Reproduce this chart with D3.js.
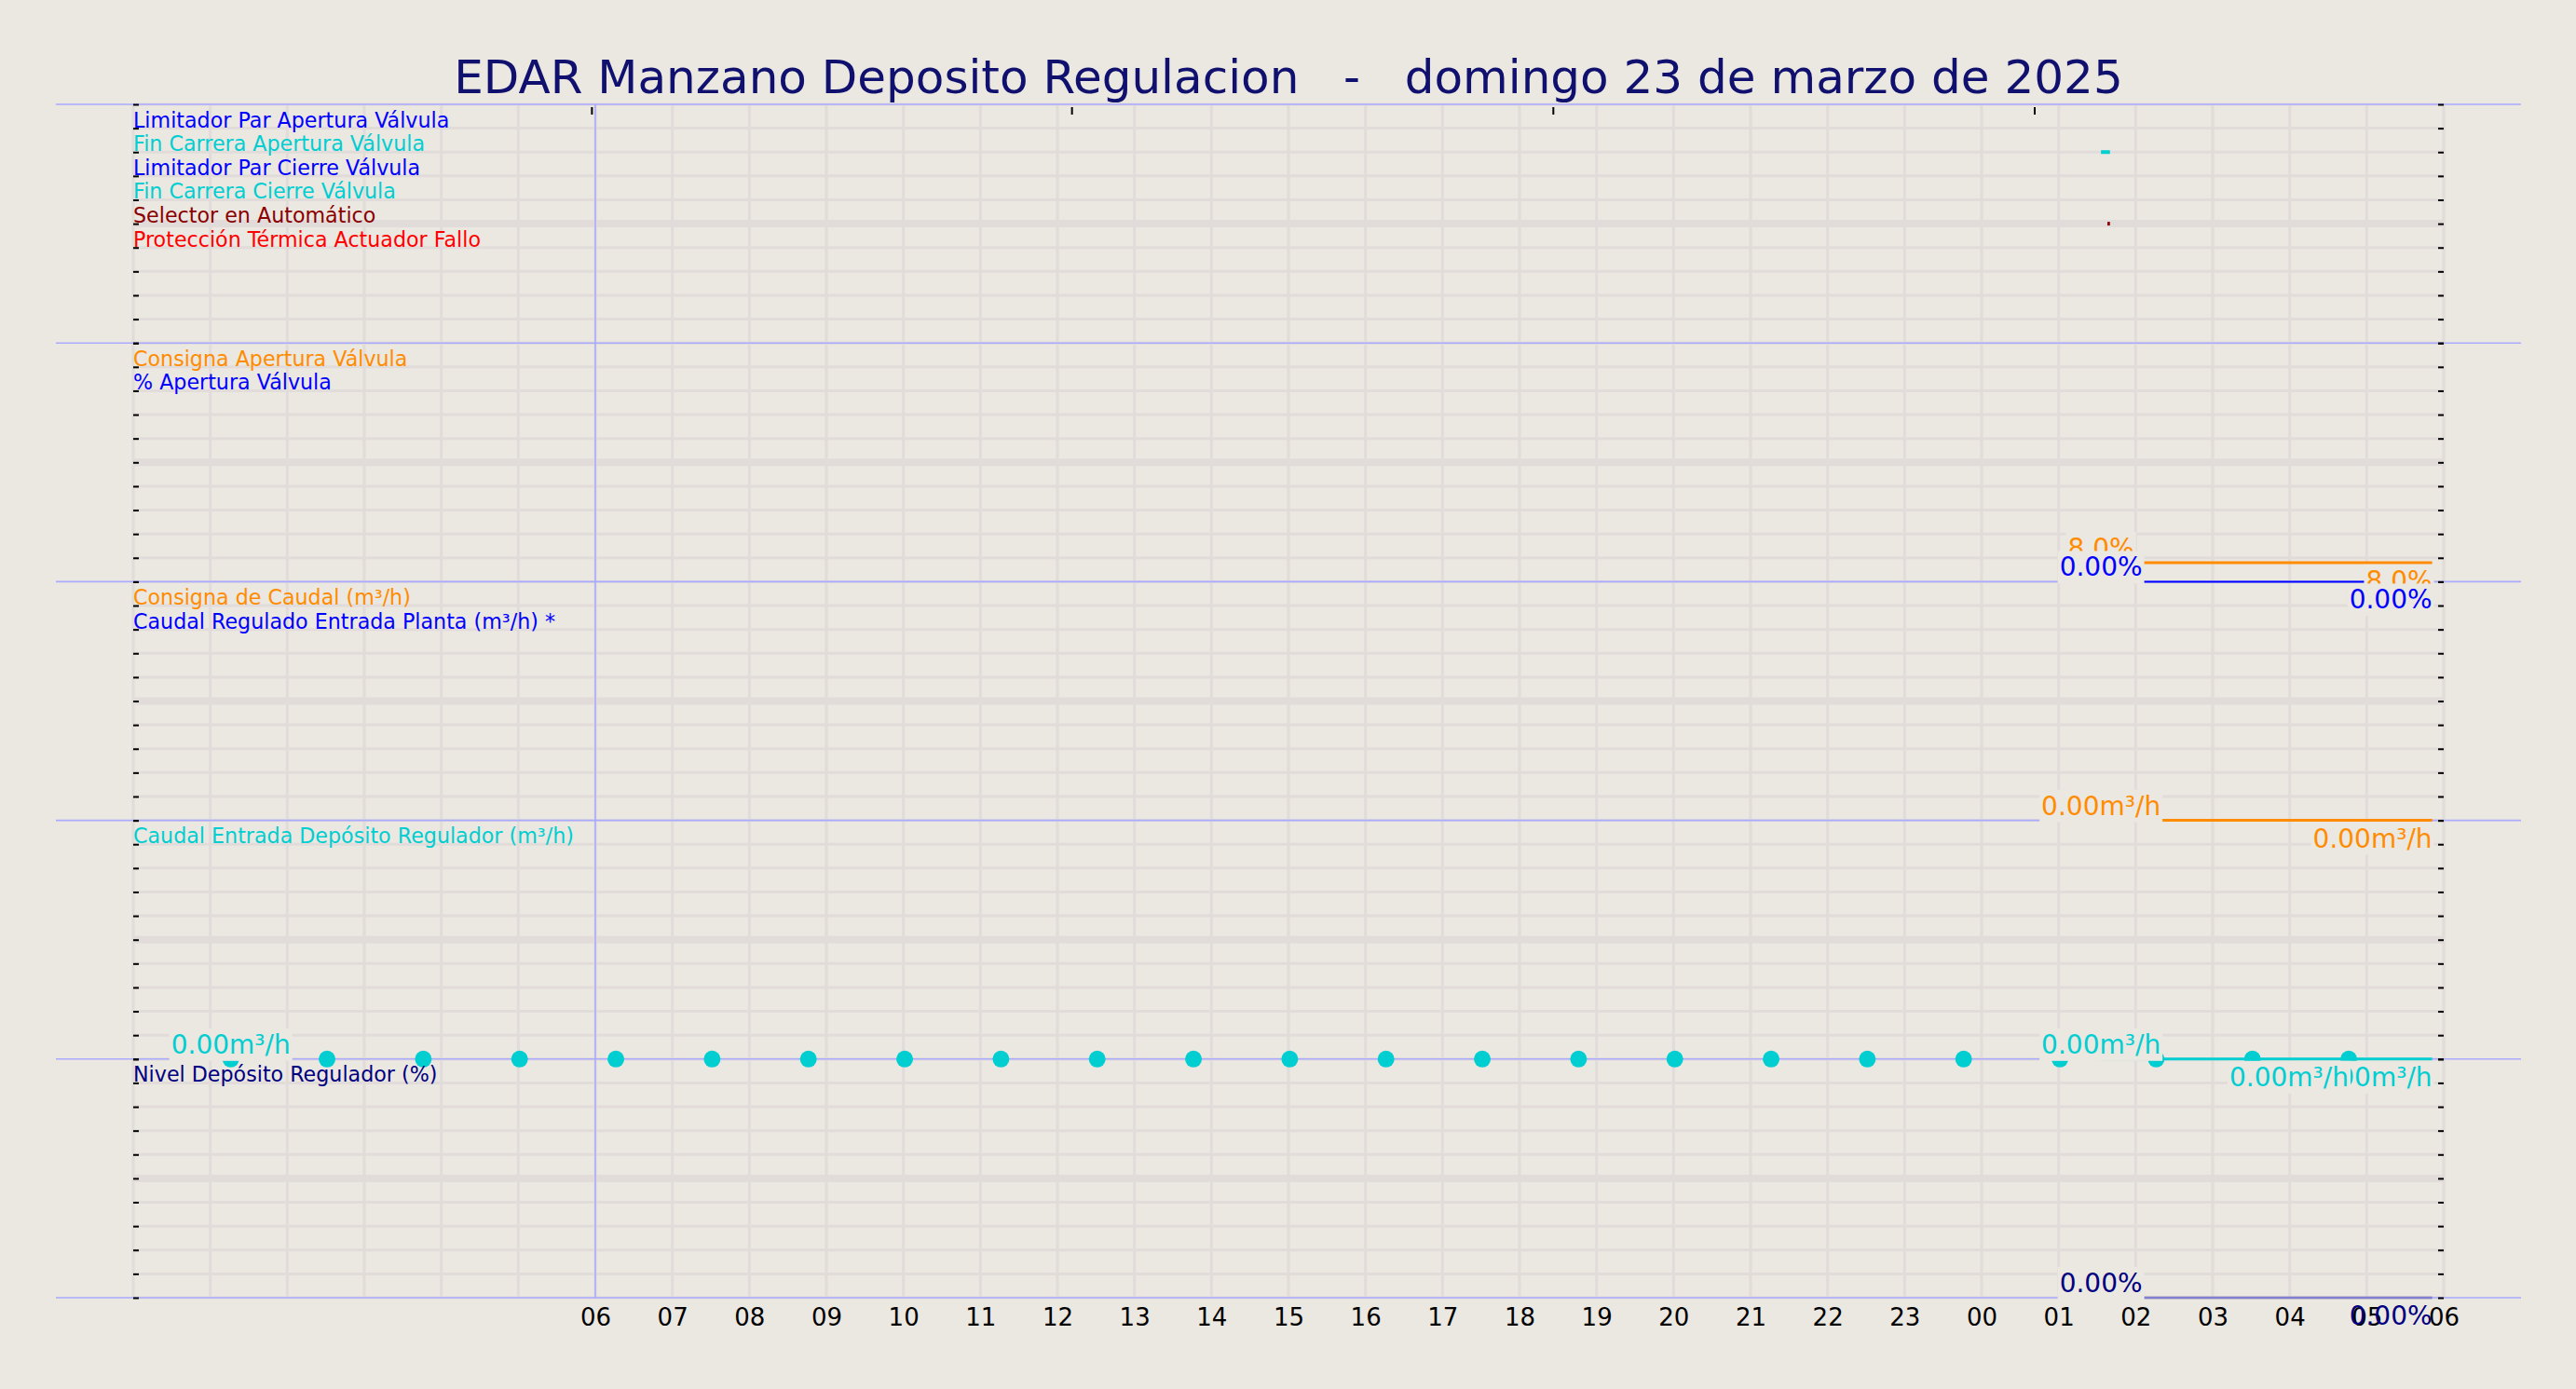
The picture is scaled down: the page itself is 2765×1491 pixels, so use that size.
<!DOCTYPE html>
<html><head><meta charset="utf-8">
<script src="https://cdn.jsdelivr.net/npm/d3@7"></script>
<style>
html,body{margin:0;padding:0;background:#ebe7e1;}
svg{display:block;font-family:"DejaVu Sans",sans-serif;}
</style>
</head><body>
<svg id="chart" width="2765" height="1491"></svg>
<script>
// ---------------- DATA ----------------
const titleText = "EDAR Manzano Deposito Regulacion   -   domingo 23 de marzo de 2025";
const xDomain = ["2025-03-23T00:00", "2025-03-24T06:00"];
const xTickTimes = ["2025-03-23T06:00","2025-03-23T07:00","2025-03-23T08:00","2025-03-23T09:00","2025-03-23T10:00",
  "2025-03-23T11:00","2025-03-23T12:00","2025-03-23T13:00","2025-03-23T14:00","2025-03-23T15:00","2025-03-23T16:00",
  "2025-03-23T17:00","2025-03-23T18:00","2025-03-23T19:00","2025-03-23T20:00","2025-03-23T21:00","2025-03-23T22:00",
  "2025-03-23T23:00","2025-03-24T00:00","2025-03-24T01:00","2025-03-24T02:00","2025-03-24T03:00","2025-03-24T04:00",
  "2025-03-24T05:00","2025-03-24T06:00"];
const xTickLabels = ["06","07","08","09","10","11","12","13","14","15","16","17","18","19","20","21","22","23","00","01","02","03","04","05","06"];
const topTickTimes = ["2025-03-23T05:57","2025-03-23T12:11","2025-03-23T18:26","2025-03-24T00:41"];
const nowLineTime = "2025-03-23T06:00";

// panel legends
const legend1Labels = ["Limitador Par Apertura Válvula","Fin Carrera Apertura Válvula","Limitador Par Cierre Válvula","Fin Carrera Cierre Válvula","Selector en Automático","Protección Térmica Actuador Fallo"];
const legend1Colors = ["#0000ff","#00ced1","#0000ff","#00ced1","#8b0000","#ff0000"];
const legend2Labels = ["Consigna Apertura Válvula","% Apertura Válvula"];
const legend2Colors = ["#ff8c00","#0000ff"];
const legend3Labels = ["Consigna de Caudal (m³/h)","Caudal Regulado Entrada Planta (m³/h) *"];
const legend3Colors = ["#ff8c00","#0000ff"];
const legend4Labels = ["Caudal Entrada Depósito Regulador (m³/h)"];
const legend4Colors = ["#00ced1"];
const legend5Labels = ["Nivel Depósito Regulador (%)"];
const legend5Colors = ["#000080"];
const panelYDomains = [[0,10],[0,100],[0,10],[0,10],[0,100]];

// panel 1 - digital signals
const finCarreraAperturaT = ["2025-03-24T01:33","2025-03-24T01:40"];
const finCarreraAperturaV = [8, 8];
const selectorAutoT = ["2025-03-24T01:38","2025-03-24T01:40"];
const selectorAutoV = [5, 5];
// panel 2
const consignaAperturaT = ["2025-03-24T01:33","2025-03-24T05:51"];
const consignaAperturaV = [8, 8];
const aperturaValvulaT = ["2025-03-24T01:33","2025-03-24T05:51"];
const aperturaValvulaV = [0, 0];
// panel 3
const consignaCaudalT = ["2025-03-24T01:33","2025-03-24T05:51"];
const consignaCaudalV = [0, 0];
// panel 4
const caudalEntradaT = ["2025-03-24T01:33","2025-03-24T05:51"];
const caudalEntradaV = [0, 0];
const caudalDotsT = ["2025-03-23T01:16","2025-03-23T02:31","2025-03-23T03:46","2025-03-23T05:01","2025-03-23T06:16",
  "2025-03-23T07:31","2025-03-23T08:46","2025-03-23T10:01","2025-03-23T11:16","2025-03-23T12:31","2025-03-23T13:46",
  "2025-03-23T15:01","2025-03-23T16:16","2025-03-23T17:31","2025-03-23T18:46","2025-03-23T20:01","2025-03-23T21:16",
  "2025-03-23T22:31","2025-03-23T23:46","2025-03-24T01:01","2025-03-24T02:16","2025-03-24T03:31","2025-03-24T04:46"];
const caudalDotsV = [0,0,0,0,0,0,0,0,0,0,0,0,0,0,0,0,0,0,0,0,0,0,0];
// panel 5
const nivelDepositoT = ["2025-03-24T01:33","2025-03-24T05:51"];
const nivelDepositoV = [0, 0];

// ---------------- DRAW ----------------
const BG = "#ebe7e1", GRID = "#e1dcda", BORDER = "#aaaaff";
const parse = d3.timeParse("%Y-%m-%dT%H:%M");
const svg = d3.select("#chart");
svg.append("rect").attr("width",2765).attr("height",1491).attr("fill",BG);

const x = d3.scaleTime().domain(xDomain.map(parse)).range([143, 2623]);
const plotTop = 112, panelH = 256.2, nP = 5;
const ys = panelYDomains.map((dom,i) => d3.scaleLinear().domain(dom).range([plotTop+(i+1)*panelH, plotTop+i*panelH]));

const gGrid = svg.append("g");
// vertical hourly grid
gGrid.selectAll("line.v").data(x.ticks(d3.timeHour.every(1))).join("line")
  .attr("x1",d=>x(d)).attr("x2",d=>x(d)).attr("y1",plotTop).attr("y2",plotTop+nP*panelH)
  .attr("stroke",GRID).attr("stroke-width",3);
// horizontal grid per panel
ys.forEach(y => {
  const dom = y.domain(); const mid = (dom[0]+dom[1])/2;
  gGrid.selectAll(null).data(y.ticks(10)).join("line")
    .attr("x1",143).attr("x2",2623).attr("y1",d=>y(d)).attr("y2",d=>y(d))
    .attr("stroke",GRID).attr("stroke-width",d=>Math.abs(d-mid)<1e-9?8:3);
});

// borders
const gB = svg.append("g");
d3.range(nP+1).forEach(i => {
  gB.append("line").attr("x1",60).attr("x2",2706).attr("y1",plotTop+i*panelH).attr("y2",plotTop+i*panelH)
    .attr("stroke",BORDER).attr("stroke-width",1.6);
});
gB.append("line").attr("x1",x(parse(nowLineTime))).attr("x2",x(parse(nowLineTime)))
  .attr("y1",plotTop).attr("y2",plotTop+nP*panelH).attr("stroke",BORDER).attr("stroke-width",1.6);

// y ticks both sides
ys.forEach(y => {
  const l = svg.append("g").attr("transform","translate(143,0)").call(d3.axisRight(y).ticks(10).tickSize(6).tickFormat(""));
  const r = svg.append("g").attr("transform","translate(2623,0)").call(d3.axisLeft(y).ticks(10).tickSize(6).tickFormat(""));
  [l,r].forEach(g => { g.select(".domain").remove(); g.selectAll(".tick line").attr("stroke","#000").attr("stroke-width",2); });
});
// top ticks
const tt = svg.append("g").attr("transform",`translate(0,${plotTop+3})`)
  .call(d3.axisBottom(x).tickValues(topTickTimes.map(parse)).tickSize(8).tickFormat(""));
tt.select(".domain").remove(); tt.selectAll(".tick line").attr("stroke","#000").attr("stroke-width",2);

// series helpers
const gData = svg.append("g");
function series(pi, T, V, color, width, opacity) {
  const pts = T.map((t,i)=>[x(parse(t)), ys[pi](V[i])]);
  gData.append("path").attr("d", d3.line()(pts)).attr("fill","none")
    .attr("stroke",color).attr("stroke-width",width).attr("stroke-opacity",opacity==null?1:opacity);
  return pts;
}
const gLab = svg.append("g");
function label(px, py, text, color, where) {
  const g = gLab.append("g");
  const t = g.append("text").attr("x",px).attr("y", where==="above" ? py-6 : py+29)
    .attr("text-anchor", where==="above" ? "middle" : "end")
    .attr("fill",color).attr("font-size",28).text(text);
  const bb = t.node().getBBox();
  g.insert("rect","text").attr("x",bb.x-2).attr("y",bb.y-1).attr("width",bb.width+4).attr("height",bb.height+2).attr("fill",BG);
}

// panel 1
series(0, finCarreraAperturaT, finCarreraAperturaV, "#00ced1", 4);
series(0, selectorAutoT, selectorAutoV, "#8b0000", 4);
// panel 2
const pCA = series(1, consignaAperturaT, consignaAperturaV, "#ff8c00", 3);
const pAV = series(1, aperturaValvulaT, aperturaValvulaV, "#0000ff", 2);
// panel 3
const pCC = series(2, consignaCaudalT, consignaCaudalV, "#ff8c00", 3);
// panel 4
const pCE = series(3, caudalEntradaT, caudalEntradaV, "#00ced1", 3);
gData.selectAll("circle.dot").data(caudalDotsT.map((t,i)=>({t:parse(t),v:caudalDotsV[i]}))).join("circle")
  .attr("cx",d=>x(d.t)).attr("cy",d=>ys[3](d.v)).attr("r",9).attr("fill","#00ced1");
// panel 5
const pND = series(4, nivelDepositoT, nivelDepositoV, "#000080", 3, 0.3);

// value labels
const fPct1 = v => d3.format(".1f")(v)+"%";
const fPct2 = v => d3.format(".2f")(v)+"%";
const fQ = v => d3.format(".2f")(v)+"m³/h";
label(pCA[0][0], pCA[0][1], fPct1(consignaAperturaV[0]), "#ff8c00", "above");
label(pAV[0][0], pAV[0][1], fPct2(aperturaValvulaV[0]), "#0000ff", "above");
label(pCA[1][0], pCA[1][1], fPct1(consignaAperturaV[1]), "#ff8c00", "below");
label(pAV[1][0], pAV[1][1], fPct2(aperturaValvulaV[1]), "#0000ff", "below");
label(pCC[0][0], pCC[0][1], fQ(consignaCaudalV[0]), "#ff8c00", "above");
label(pCC[1][0], pCC[1][1], fQ(consignaCaudalV[1]), "#ff8c00", "below");
const d0 = [x(parse(caudalDotsT[0])), ys[3](caudalDotsV[0])];
const dN = [x(parse(caudalDotsT[caudalDotsT.length-1])), ys[3](caudalDotsV[caudalDotsV.length-1])];
label(pCE[0][0], pCE[0][1], fQ(caudalEntradaV[0]), "#00ced1", "above");
label(pCE[1][0], pCE[1][1], fQ(caudalEntradaV[1]), "#00ced1", "below");
label(d0[0], d0[1], fQ(caudalDotsV[0]), "#00ced1", "above");
label(dN[0], dN[1], fQ(caudalDotsV[caudalDotsV.length-1]), "#00ced1", "below");
label(pND[0][0], pND[0][1], fPct2(nivelDepositoV[0]), "#000080", "above");

// legends
const legends = [[legend1Labels,legend1Colors],[legend2Labels,legend2Colors],[legend3Labels,legend3Colors],[legend4Labels,legend4Colors],[legend5Labels,legend5Colors]];
legends.forEach(([labs,cols],pi) => {
  const top = plotTop + pi*panelH;
  svg.append("g").selectAll("text").data(labs).join("text")
    .attr("x",143).attr("y",(d,i)=>top + 25.6*(i+1) - 1)
    .attr("fill",(d,i)=>cols[i]).attr("font-size",22.2).text(d=>d);
});

// bottom x axis labels
const xa = svg.append("g").attr("transform",`translate(0,${plotTop+nP*panelH})`)
  .call(d3.axisBottom(x).tickValues(xTickTimes.map(parse)).tickSize(0).tickPadding(12)
    .tickFormat((d,i)=>xTickLabels[i]));
xa.select(".domain").remove();
xa.selectAll("text").attr("font-size",26).attr("fill","#000").attr("font-family","DejaVu Sans");

// last panel end label drawn above the axis labels
label(pND[1][0], pND[1][1], fPct2(nivelDepositoV[1]), "#000080", "below");
svg.node().appendChild(gLab.node().lastChild);
d3.select(svg.node().lastChild).select("rect").attr("fill-opacity",0);

// title
svg.append("text").attr("x",1383).attr("y",100).attr("text-anchor","middle")
  .attr("font-size",50).attr("fill","#10106e").style("white-space","pre").text(titleText);
</script>
</body></html>
